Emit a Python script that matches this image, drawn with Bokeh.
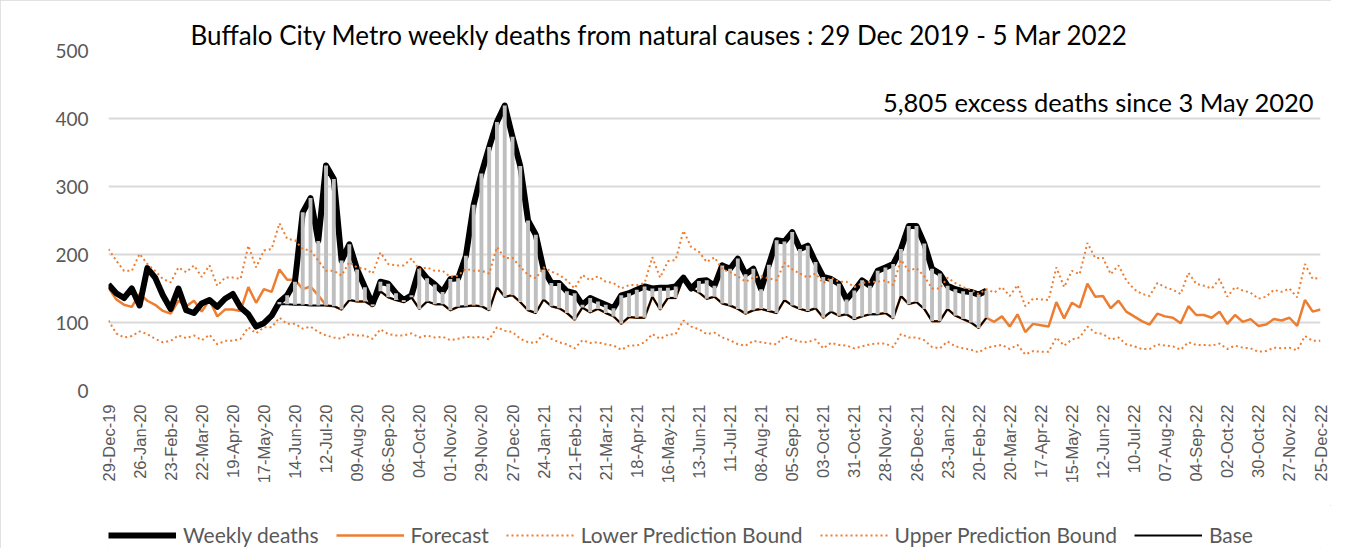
from bokeh.plotting import figure
from bokeh.models import Range1d, FixedTicker, Legend, LegendItem, Label
from bokeh.layouts import column
from bokeh.embed import file_html
from bokeh.resources import INLINE
import math

# ---------------- data ----------------
tick_labels = ["29-Dec-19", "26-Jan-20", "23-Feb-20", "22-Mar-20", "19-Apr-20", "17-May-20",
               "14-Jun-20", "12-Jul-20", "09-Aug-20", "06-Sep-20", "04-Oct-20", "01-Nov-20",
               "29-Nov-20", "27-Dec-20", "24-Jan-21", "21-Feb-21", "21-Mar-21", "18-Apr-21",
               "16-May-21", "13-Jun-21", "11-Jul-21", "08-Aug-21", "05-Sep-21", "03-Oct-21",
               "31-Oct-21", "28-Nov-21", "26-Dec-21", "23-Jan-22", "20-Feb-22", "20-Mar-22",
               "17-Apr-22", "15-May-22", "12-Jun-22", "10-Jul-22", "07-Aug-22", "04-Sep-22",
               "02-Oct-22", "30-Oct-22", "27-Nov-22", "25-Dec-22"]
weeks_per_tick = 4

weekly_deaths = [156, 143, 136, 150, 125, 180, 166, 140, 120, 150,
                 118, 114, 128, 133, 123, 135, 142, 122, 112, 94,
                 99, 110, 130, 140, 160, 262, 283, 220, 331, 311,
                 191, 215, 178, 152, 127, 160, 157, 143, 133, 140,
                 179, 165, 156, 145, 164, 165, 198, 273, 319, 358,
                 395, 419, 373, 330, 250, 229, 178, 158, 158, 146,
                 143, 126, 136, 131, 126, 121, 140, 143, 148, 153,
                 150, 151, 151, 153, 166, 150, 161, 162, 154, 184,
                 179, 194, 171, 179, 149, 185, 221, 219, 233, 208,
                 213, 189, 167, 164, 157, 134, 147, 162, 154, 176,
                 181, 186, 208, 242, 242, 216, 179, 172, 154, 149,
                 146, 145, 141, 147]

base_start_week = 22
base = [127, 127, 126, 126, 125, 125, 125, 124, 119, 133,
        131, 131, 124, 146, 137, 133, 130, 137, 120, 131,
        127, 127, 118, 123, 124, 125, 124, 118, 152, 138,
        140, 130, 118, 114, 134, 124, 121, 114, 104, 122,
        115, 120, 114, 109, 98, 108, 107, 107, 138, 119,
        136, 136, 166, 150, 144, 135, 138, 128, 125, 120,
        113, 118, 120, 117, 114, 133, 125, 120, 117, 121,
        107, 116, 110, 112, 105, 109, 112, 112, 114, 106,
        139, 127, 130, 120, 102, 102, 120, 110, 105, 100,
        92, 107]

forecast = [151, 134, 126, 123, 142, 132, 126, 117, 113, 132,
            124, 132, 116, 133, 109, 119, 119, 117, 152, 129,
            149, 145, 178, 163, 163, 149, 153, 140, 125, 124,
            119, 133, 131, 131, 124, 146, 137, 133, 130, 137,
            120, 131, 127, 127, 118, 123, 124, 125, 124, 118,
            152, 138, 140, 130, 118, 114, 134, 124, 121, 114,
            104, 122, 115, 120, 114, 109, 98, 108, 107, 107,
            138, 119, 136, 136, 166, 150, 144, 135, 138, 128,
            125, 120, 113, 118, 120, 117, 114, 133, 125, 120,
            117, 121, 107, 116, 110, 112, 105, 109, 112, 112,
            114, 106, 139, 127, 130, 120, 102, 102, 120, 110,
            105, 100, 92, 107, 101, 109, 94, 112, 86, 98,
            96, 94, 130, 106, 129, 122, 157, 138, 139, 121,
            132, 116, 109, 102, 97, 113, 109, 107, 99, 124,
            111, 111, 107, 116, 98, 111, 101, 105, 95, 97,
            105, 103, 107, 95, 133, 116, 119]

upper_bound = [208, 191, 176, 176, 201, 186, 176, 164, 159, 181,
               174, 184, 167, 184, 154, 166, 166, 164, 213, 181,
               206, 208, 246, 223, 221, 208, 206, 191, 176, 176,
               169, 189, 181, 179, 172, 203, 186, 184, 184, 194,
               178, 181, 176, 176, 167, 169, 179, 176, 176, 172,
               211, 195, 195, 182, 170, 165, 181, 175, 170, 162,
               150, 170, 162, 168, 160, 158, 150, 155, 155, 158,
               196, 166, 190, 192, 235, 211, 204, 189, 196, 178,
               174, 168, 160, 166, 168, 165, 162, 188, 178, 172,
               166, 172, 158, 166, 160, 160, 152, 158, 160, 160,
               162, 155, 192, 176, 180, 168, 150, 150, 166, 158,
               152, 148, 142, 149, 144, 152, 139, 155, 124, 135,
               134, 133, 181, 152, 176, 171, 217, 195, 195, 171,
               184, 162, 149, 142, 139, 158, 152, 148, 142, 173,
               157, 154, 150, 164, 138, 152, 147, 144, 135, 138,
               148, 145, 150, 137, 186, 164, 166]

lower_bound = [103, 84, 78, 80, 87, 83, 76, 71, 73, 81,
               77, 81, 74, 82, 68, 73, 73, 76, 93, 84,
               93, 93, 107, 98, 98, 91, 94, 86, 81, 78,
               76, 83, 81, 81, 76, 90, 83, 81, 81, 84,
               78, 81, 78, 79, 74, 76, 79, 78, 79, 75,
               93, 88, 86, 76, 71, 70, 83, 76, 71, 68,
               62, 74, 70, 71, 68, 66, 60, 66, 66, 71,
               83, 76, 82, 83, 103, 94, 90, 83, 85, 78,
               74, 68, 66, 73, 71, 69, 68, 80, 75, 72,
               71, 75, 62, 70, 67, 66, 62, 65, 68, 69,
               69, 64, 83, 78, 78, 74, 64, 62, 72, 65,
               62, 60, 56, 63, 65, 67, 61, 67, 53, 58,
               57, 57, 78, 66, 75, 78, 94, 85, 83, 75,
               78, 68, 65, 61, 61, 68, 66, 65, 60, 71,
               67, 67, 66, 69, 61, 66, 63, 62, 57, 58,
               63, 62, 63, 59, 80, 73, 73]

title_text = "Buffalo City Metro weekly deaths from natural causes : 29 Dec 2019 - 5 Mar 2022"
note_text = "5,805 excess deaths since 3 May 2020"
legend_labels = ["Weekly deaths", "Forecast", "Lower Prediction Bound", "Upper Prediction Bound", "Base"]

# ---------------- derived positions ----------------
weeks_all = list(range(len(forecast)))
weeks_obs = list(range(len(weekly_deaths)))
weeks_base = list(range(base_start_week, base_start_week + len(base)))
excess_top = weekly_deaths[base_start_week:base_start_week + len(base)]
last_week = len(forecast) - 1

ORANGE = "#ED7D31"
CAL = "Lato"
GRAY_TXT = "#595959"
W = 1331

p = figure(width=W, height=505, output_backend="svg", toolbar_location=None,
           x_range=Range1d(0, last_week), y_range=Range1d(0, 500),
           min_border_left=108, min_border_right=11, min_border_top=50, min_border_bottom=115)
p.outline_line_color = None

# title (in the panel above the plot area)
p.title.text = title_text
p.title.align = "left"
p.title.offset = 82
p.title.standoff = 0
p.title.text_font = CAL
p.title.text_font_size = "26px"
p.title.text_font_style = "normal"
p.title.text_color = "#000000"

# axes
tick_pos = [i * weeks_per_tick for i in range(len(tick_labels))]
p.xaxis.ticker = FixedTicker(ticks=tick_pos)
p.xaxis.major_label_overrides = {t: lab for t, lab in zip(tick_pos, tick_labels)}
p.xaxis.major_label_orientation = math.pi / 2
p.xaxis.major_label_text_font = "Liberation Sans"
p.xaxis.major_label_text_font_size = "16.5px"
p.xaxis.major_label_text_color = GRAY_TXT
p.xaxis.major_label_standoff = 8
p.xaxis.axis_line_color = None
p.xaxis.major_tick_line_color = None
p.xaxis.minor_tick_line_color = None

p.yaxis.ticker = FixedTicker(ticks=[0, 100, 200, 300, 400, 500])
p.yaxis.major_label_text_font = CAL
p.yaxis.major_label_text_font_size = "19px"
p.yaxis.major_label_text_color = GRAY_TXT
p.yaxis.major_label_standoff = 14
p.yaxis.axis_line_color = None
p.yaxis.major_tick_line_color = None
p.yaxis.minor_tick_line_color = None

p.xgrid.grid_line_color = None
p.ygrid.grid_line_color = "#d9d9d9"
p.ygrid.grid_line_width = 2

# series
FC_STYLE = dict(line_color=ORANGE, line_width=2.5)
WK_STYLE = dict(line_color="black", line_width=6, line_join="round")
BASE_STYLE = dict(line_color="black", line_width=2)
BOUND_STYLE = dict(line_color=ORANGE, line_width=2, line_dash="2 3")

p.line(weeks_all, forecast, **FC_STYLE)
p.line(weeks_obs, weekly_deaths, **WK_STYLE)
p.line(weeks_base, base, **BASE_STYLE)
p.vbar(x=weeks_base, bottom=base, top=excess_top, width=0.5,
       fill_color="#bfbfbf", line_color=None)
p.line(weeks_all, lower_bound, **BOUND_STYLE)
p.line(weeks_all, upper_bound, **BOUND_STYLE)

# note inside the plot area
p.add_layout(Label(x=last_week - 0.8, y=425, text=note_text, text_align="right", text_baseline="middle",
                   text_font=CAL, text_font_size="25.5px", text_color="#000000"))

# ---------------- legend strip below the chart ----------------
lg = figure(width=W, height=43, output_backend="svg", toolbar_location=None,
            x_range=Range1d(0, 1), y_range=Range1d(0, 1),
            x_axis_type=None, y_axis_type=None,
            min_border_left=0, min_border_right=0, min_border_top=0, min_border_bottom=0)
lg.outline_line_color = None
lg.grid.grid_line_color = None
styles = [WK_STYLE, FC_STYLE, BOUND_STYLE, BOUND_STYLE, BASE_STYLE]
items = []
for lab, st in zip(legend_labels, styles):
    # swatch renderers sit outside the visible range; only their legend glyphs show
    r = lg.line([-3, -2], [-3, -3], **st)
    items.append(LegendItem(label=lab, renderers=[r]))
legend = Legend(items=items, orientation="horizontal", location=(0, 1))
legend.glyph_width = 68
legend.glyph_height = 20
legend.label_standoff = 7
legend.spacing = 17
legend.padding = 0
legend.margin = 0
legend.border_line_color = None
legend.background_fill_alpha = 0
legend.label_text_font = CAL
legend.label_text_font_size = "21px"
legend.label_text_color = GRAY_TXT
lg.add_layout(legend, "center")

page = column(p, lg, spacing=0)
page.styles = {"outline": "1px solid #d9d9d9", "outline-offset": "-1px"}

open("out.html", "w").write(file_html(page, INLINE))
